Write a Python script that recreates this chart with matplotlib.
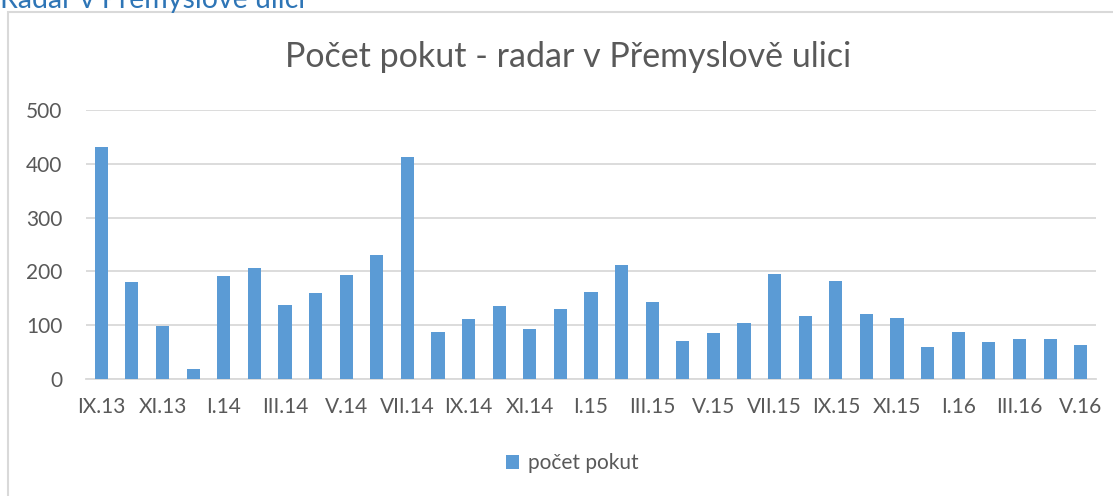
import matplotlib.pyplot as plt
from matplotlib.patches import Rectangle

plt.rcParams['font.family'] = ['Lato', 'DejaVu Sans']

months = ['IX.13', 'X.13', 'XI.13', 'XII.13',
          'I.14', 'II.14', 'III.14', 'IV.14', 'V.14', 'VI.14', 'VII.14', 'VIII.14',
          'IX.14', 'X.14', 'XI.14', 'XII.14',
          'I.15', 'II.15', 'III.15', 'IV.15', 'V.15', 'VI.15', 'VII.15', 'VIII.15',
          'IX.15', 'X.15', 'XI.15', 'XII.15',
          'I.16', 'II.16', 'III.16', 'IV.16', 'V.16']
pokuty = [431, 181, 99, 18, 192, 206, 138, 160, 193, 231, 413, 87,
          112, 135, 93, 130, 161, 212, 144, 71, 86, 105, 196, 118,
          183, 120, 113, 60, 88, 68, 75, 74, 64]

bar_color = '#5b9bd5'
text_color = '#595959'
grid_color = '#d9d9d9'

fig = plt.figure(figsize=(11.13, 4.96), dpi=100)
ax = fig.add_axes([86 / 1113, 1 - 379 / 496, (1096 - 86) / 1113, (379 - 110) / 496])

# outer chart frame
fig.patches.append(Rectangle((8 / 1113, -0.01), 1.0, 1 - 12 / 496 + 0.01,
                             transform=fig.transFigure, fill=False,
                             edgecolor=grid_color, linewidth=1.5))
# heading above the chart, cut at the top edge as in the source page
fig.text(0.0, 1 - 8 / 496, 'Radar v Přemyslově ulici', color='#2e75b6',
         fontsize=20.5, ha='left', va='baseline')

x = range(len(months))
ax.bar(x, pokuty, width=0.43, color=bar_color, label='počet pokut', zorder=3)

ax.set_xlim(-0.5, len(months) - 0.5)
ax.set_ylim(0, 500)
ax.set_yticks(range(0, 501, 100))
ax.yaxis.grid(True, color=grid_color, linewidth=1.3, zorder=0)
ax.set_xticks(list(x)[::2])
ax.set_xticklabels(months[::2])
ax.tick_params(axis='both', length=0, labelsize=15, colors=text_color)
ax.tick_params(axis='x', pad=13)
ax.tick_params(axis='y', pad=17)
for s in ['top', 'right', 'left']:
    ax.spines[s].set_visible(False)
ax.spines['bottom'].set_color(grid_color)
ax.spines['bottom'].set_linewidth(1.3)

fig.text(568 / 1113, 1 - 57 / 496, 'Počet pokut - radar v Přemyslově ulici',
         color=text_color, fontsize=24.5, ha='center', va='center')

fig.legend(loc='center', bbox_to_anchor=(572 / 1113, 1 - 463 / 496), frameon=False,
           fontsize=15, labelcolor=text_color, handlelength=0.65, handleheight=0.65,
           handletextpad=0.4)

fig.savefig('out.png', dpi=100)
